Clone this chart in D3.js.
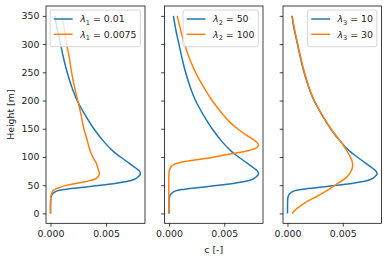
<!DOCTYPE html>
<html><head><meta charset="utf-8">
<script src="https://cdn.jsdelivr.net/npm/d3@7"></script>
<style>body{margin:0;background:#fff}svg{display:block}text{font-family:"DejaVu Sans",sans-serif;fill:#1a1a1a}</style>
</head><body><svg id="c" width="388" height="262"></svg>
<script>
// ---- data ----
const hBase = [0,20,25,30,35,40,43,47,50,53,56,60,65,70,75,80,90,100,110,125,150,175,200,225,250,275,300,325,350];
const cBase = [0,0.00001,0.00002,0.00006,0.0002,0.0006,0.0014,0.0032,0.0045,0.0058,0.0067,0.0075,0.0079,0.0081,0.0080,0.0077,0.0070,0.0063,0.00565,0.0049,0.0039,0.0031,0.0024,0.0019,0.0015,0.00118,0.0009,0.00062,0.0004];

const hLam1b = [0,25,30,35,40,46,50,54,57,60,65,71,78,90,100,115,130,150,175,200,225,250,275,300,325,350];
const cLam1b = [0,0.00001,0.00003,0.0001,0.00022,0.0008,0.0015,0.0025,0.0033,0.0039,0.0043,0.0044,0.0043,0.0041,0.0038,0.0035,0.0033,0.0030,0.00275,0.00245,0.00215,0.0019,0.0017,0.00145,0.00125,0.00105];

const hLam2b = [0,70,76,80,85,88,91,95,100,106,111,116,120,125,130,140,150,160,175,200,225,250,275,300,325,350];
const cLam2b = [0,0,0.00003,0.0001,0.0003,0.0006,0.0012,0.0025,0.0041,0.0058,0.0071,0.0079,0.0081,0.0080,0.0077,0.0069,0.0062,0.0056,0.0049,0.0039,0.0031,0.0024,0.00185,0.0014,0.00105,0.00075];

const hLam3b = [0,6,13,21,30,42,54,65,77,86,95,107,116,125,150,175,200,225,250,275,300,325,350];
const cLam3b = [0.0004,0.0007,0.00114,0.00175,0.00265,0.0037,0.0046,0.0054,0.0058,0.0059,0.0058,0.0055,0.0052,0.0049,0.00393,0.00313,0.00243,0.00193,0.00153,0.00121,0.00093,0.00065,0.00043];

const legendSub = ["1","2","3"];
const legendVals = [["0.01","0.0075"],["50","100"],["10","30"]];
const yTicks = [0,50,100,150,200,250,300,350];
const xTicks = [0,0.005];
const xTickLabels = ["0.000","0.005"];
const yLabel = "Height [m]";
const xLabel = "c [-]";
const colors = ["#1f77b4","#ff7f0e"];

// ---- layout ----
const svg = d3.select("#c");
const fs = 9.4;
const yTop = 6, yBot = 223.3;
const panelX = [[46,145],[164.5,263],[283,381.5]];
const seriesH = [[hBase,hLam1b],[hBase,hLam2b],[hBase,hLam3b]];
const seriesC = [[cBase,cLam1b],[cBase,cLam2b],[cBase,cLam3b]];

const y = d3.scaleLinear().domain([-17.5,367.5]).range([yBot, yTop]);

panelX.forEach((px, i) => {
  const allC = seriesC[i].flat();
  const mn = d3.min(allC), mx = d3.max(allC), pad = (mx - mn) * 0.05;
  const x = d3.scaleLinear().domain([mn - pad, mx + pad]).range(px);
  const g = svg.append("g");

  const clipId = "clip" + i;
  svg.append("clipPath").attr("id", clipId).append("rect")
    .attr("x", px[0]).attr("y", yTop).attr("width", px[1]-px[0]).attr("height", yBot-yTop);
  seriesH[i].forEach((hs, k) => {
    const pts = hs.map((h, j) => [seriesC[i][k][j], h]);
    const line = d3.line().x(d => x(d[0])).y(d => y(d[1])).curve(d3.curveCatmullRom.alpha(0.5));
    g.append("path").attr("d", line(pts)).attr("fill","none")
      .attr("stroke", colors[k]).attr("stroke-width", 1.5).attr("clip-path", `url(#${clipId})`);
  });

  const ya = d3.axisLeft(y).tickValues(yTicks).tickSize(3.3).tickPadding(3.3)
    .tickFormat(i === 0 ? d3.format("d") : () => "");
  const ga = g.append("g").attr("transform", `translate(${px[0]},0)`).call(ya);
  const xa = d3.axisBottom(x).tickValues(xTicks).tickSize(3.3).tickPadding(3.3)
    .tickFormat((d, j) => xTickLabels[j]);
  const gx = g.append("g").attr("transform", `translate(0,${yBot})`).call(xa);
  [ga, gx].forEach(a => {
    a.select(".domain").remove();
    a.selectAll("line").attr("stroke","#000").attr("stroke-width",0.75);
    a.selectAll("text").attr("font-size", fs).attr("font-family","DejaVu Sans").attr("fill","#1a1a1a");
  });

  g.append("rect").attr("x", px[0]).attr("y", yTop).attr("width", px[1]-px[0]).attr("height", yBot-yTop)
    .attr("fill","none").attr("stroke","#000").attr("stroke-width",0.75);

  const lg = svg.append("g");
  const box = lg.append("rect");
  const rows = legendVals[i].map((v, k) => {
    const t = lg.append("text").attr("font-size", fs);
    t.append("tspan").text("λ").attr("font-style","italic");
    t.append("tspan").text(legendSub[i]).attr("font-size", fs*0.7).attr("dy", 2.2);
    t.append("tspan").text(" = " + v).attr("dy", -2.2);
    return t;
  });
  const tw = d3.max(rows, t => t.node().getComputedTextLength());
  const bw = fs*(0.4+2.0+0.8+0.4) + tw;
  const bx = px[1] - 0.5*fs - bw, by = yTop + 0.5*fs - 0.7;
  const bh = 36.7;
  box.attr("x", bx).attr("y", by).attr("width", bw).attr("height", bh).attr("rx", 2)
    .attr("fill","#fff").attr("fill-opacity",0.8).attr("stroke","#cccccc").attr("stroke-width",0.8);
  rows.forEach((t, k) => {
    const cy = by + 9 + k*15.3;
    lg.append("line").attr("x1", bx + 0.4*fs).attr("x2", bx + 2.4*fs).attr("y1", cy).attr("y2", cy)
      .attr("stroke", colors[k]).attr("stroke-width", 1.5);
    t.attr("x", bx + 3.2*fs).attr("y", cy + 3.3);
  });
});

svg.append("text").attr("transform", `translate(13.5,${(yTop+yBot)/2}) rotate(-90)`)
  .attr("text-anchor","middle").attr("font-size", fs).text(yLabel);
svg.append("text").attr("x", (panelX[1][0]+panelX[1][1])/2).attr("y", 252.5)
  .attr("text-anchor","middle").attr("font-size", fs).text(xLabel);
</script></body></html>
